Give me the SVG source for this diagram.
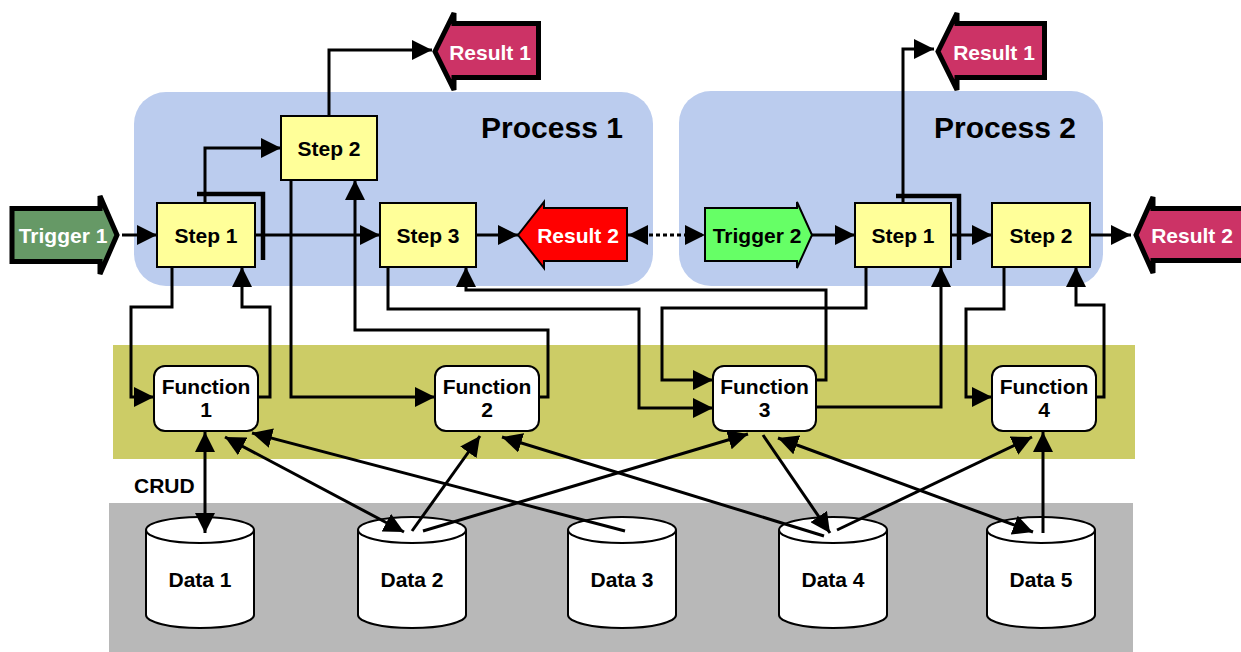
<svg xmlns="http://www.w3.org/2000/svg" width="1241" height="652" viewBox="0 0 1241 652">
<style>
text{font-family:"Liberation Sans",Arial,sans-serif;font-weight:bold;font-size:21px;text-anchor:middle;fill:#000}
.w{fill:#fff}
.title{font-size:30px}
.step{fill:#FFFF99;stroke:#000;stroke-width:2}
.fn{fill:#fff;stroke:#000;stroke-width:2}
.db{fill:#fff;stroke:#000;stroke-width:2}
.c{fill:none;stroke:#000;stroke-width:3;stroke-linejoin:miter}
.ce{marker-end:url(#ah)}
.cb{marker-start:url(#ah);marker-end:url(#ah)}
.br{fill:none;stroke:#000;stroke-width:4.5}
.thick{stroke:#000;stroke-width:5;stroke-linejoin:miter}
.thin{stroke:#000;stroke-width:2}
</style>
<defs>
<marker id="ah" viewBox="0 0 20 20" refX="20" refY="10" markerWidth="20" markerHeight="20" markerUnits="userSpaceOnUse" orient="auto-start-reverse">
<path d="M0,0 L20,10 L0,20 z" fill="#000"/>
</marker>
</defs>

<g id="bands">
<rect x="113" y="345" width="1022" height="114" fill="#CCCC66"/>
<rect x="109" y="503" width="1024" height="149" fill="#B8B8B8"/>
</g>

<g id="process1">
<rect x="134" y="92" width="519" height="194" rx="32" fill="#BBCCEE"/>
<text class="title" x="552" y="138">Process 1</text>
</g>
<g id="process2">
<rect x="679" y="91" width="424" height="195" rx="32" fill="#BBCCEE"/>
<text class="title" x="1005" y="138">Process 2</text>
</g>

<g id="trigger1">
<polygon class="thick" fill="#669966" points="12,208.5 100,208.5 100,196 117,235 100,274 100,261.5 12,261.5"/>
<text class="w" x="63" y="242.5">Trigger 1</text>
</g>
<g id="result1a">
<polygon class="thick" fill="#CC3366" points="538.5,23.5 454,23.5 454,13 435,51.5 454,90 454,77.5 538.5,77.5"/>
<text class="w" x="490" y="59.5">Result 1</text>
</g>
<g id="result1b">
<polygon class="thick" fill="#CC3366" points="1044.5,23.5 957,23.5 957,13 938,51.5 957,90 957,77.5 1044.5,77.5"/>
<text class="w" x="994" y="59.5">Result 1</text>
</g>
<g id="result2b">
<polygon class="thick" fill="#CC3366" points="1250,208.5 1153,208.5 1153,197 1136,235 1153,273 1153,260.5 1250,260.5"/>
<text class="w" x="1192" y="242.5">Result 2</text>
</g>
<g id="result2a">
<polygon class="thin" fill="#FF0000" points="627,208 544,208 544,202 518,235 544,268 544,261 627,261"/>
<text class="w" x="578" y="242.5">Result 2</text>
</g>
<g id="trigger2">
<polygon class="thin" fill="#66FF66" points="705,208 797,208 797,202 812,235 797,268 797,261 705,261"/>
<text x="757" y="242.5">Trigger 2</text>
</g>

<g id="p1step1"><rect class="step" x="157" y="203" width="98" height="64"/><text x="206" y="242.5">Step 1</text></g>
<g id="p1step2"><rect class="step" x="281" y="116" width="96" height="64"/><text x="329" y="155.5">Step 2</text></g>
<g id="p1step3"><rect class="step" x="380" y="203" width="96" height="64"/><text x="428" y="242.5">Step 3</text></g>
<g id="p2step1"><rect class="step" x="855" y="203" width="96" height="64"/><text x="903" y="242.5">Step 1</text></g>
<g id="p2step2"><rect class="step" x="992" y="203" width="98" height="64"/><text x="1041" y="242.5">Step 2</text></g>

<g id="function1"><rect class="fn" x="154" y="366" width="104" height="65" rx="11"/><text x="206" y="394">Function</text><text x="206" y="417">1</text></g>
<g id="function2"><rect class="fn" x="435" y="366" width="104" height="65" rx="11"/><text x="487" y="394">Function</text><text x="487" y="417">2</text></g>
<g id="function3"><rect class="fn" x="713" y="366" width="103" height="65" rx="11"/><text x="764.5" y="394">Function</text><text x="764.5" y="417">3</text></g>
<g id="function4"><rect class="fn" x="992" y="366" width="104" height="65" rx="11"/><text x="1044" y="394">Function</text><text x="1044" y="417">4</text></g>

<text x="134" y="493" style="text-anchor:start">CRUD</text>

<g id="data1"><path class="db" d="M146,530 V615 A54,13 0 0 0 254,615 V530"/><ellipse class="db" cx="200" cy="530" rx="54" ry="13"/><text x="200" y="587">Data 1</text></g>
<g id="data2"><path class="db" d="M358,530 V615 A54,13 0 0 0 466,615 V530"/><ellipse class="db" cx="412" cy="530" rx="54" ry="13"/><text x="412" y="587">Data 2</text></g>
<g id="data3"><path class="db" d="M568,530 V615 A54,13 0 0 0 676,615 V530"/><ellipse class="db" cx="622" cy="530" rx="54" ry="13"/><text x="622" y="587">Data 3</text></g>
<g id="data4"><path class="db" d="M779,530 V615 A54,13 0 0 0 887,615 V530"/><ellipse class="db" cx="833" cy="530" rx="54" ry="13"/><text x="833" y="587">Data 4</text></g>
<g id="data5"><path class="db" d="M987,530 V615 A54,13 0 0 0 1095,615 V530"/><ellipse class="db" cx="1041" cy="530" rx="54" ry="13"/><text x="1041" y="587">Data 5</text></g>

<g id="connectors">
<path class="c ce" d="M122,235 H157"/>
<path class="c ce" d="M255,235 H380"/>
<path class="c ce" d="M205,203 V148 H281"/>
<path class="c ce" d="M329,116 V50 H432"/>
<path class="c ce" d="M476,235 H518"/>
<path class="c cb" d="M628,235 H705" stroke-width="4" stroke-dasharray="4,3"/>
<path class="c ce" d="M812,235 H855"/>
<path class="c ce" d="M951,235 H992"/>
<path class="c ce" d="M1090,235 H1131"/>
<path class="c ce" d="M903,203 V49 H934"/>
<path class="br" d="M197,194 H263 V260"/>
<path class="br" d="M896,196 H959 V260"/>

<path class="c ce" d="M172,267 V307 H131 V397 H154"/>
<path class="c ce" d="M258,397 H270 V307 H242 V267"/>
<path class="c ce" d="M291,180 V397 H435"/>
<path class="c ce" d="M539,397 H548 V330 H355 V180"/>
<path class="c ce" d="M388,267 V309 H639 V408 H713"/>
<path class="c ce" d="M816,380 H826 V290 H466 V267"/>
<path class="c ce" d="M866,267 V308 H662 V380 H713"/>
<path class="c ce" d="M816,407 H941 V267"/>
<path class="c ce" d="M1004,267 V309 H966 V397 H992"/>
<path class="c ce" d="M1096,397 H1104 V305 H1076 V267"/>

<path class="c cb" d="M205,432 V533"/>
<path class="c cb" d="M225,437 L404,532"/>
<path class="c ce" d="M625,531 L252,433"/>
<path class="c ce" d="M412,531 L480,436"/>
<path class="c ce" d="M423,531 L748,434"/>
<path class="c ce" d="M824,536 L502,437"/>
<path class="c ce" d="M763,435 L830,533"/>
<path class="c ce" d="M837,530 L1032,437"/>
<path class="c cb" d="M778,438 L1033,532"/>
<path class="c ce" d="M1043,533 V432"/>
</g>
</svg>
